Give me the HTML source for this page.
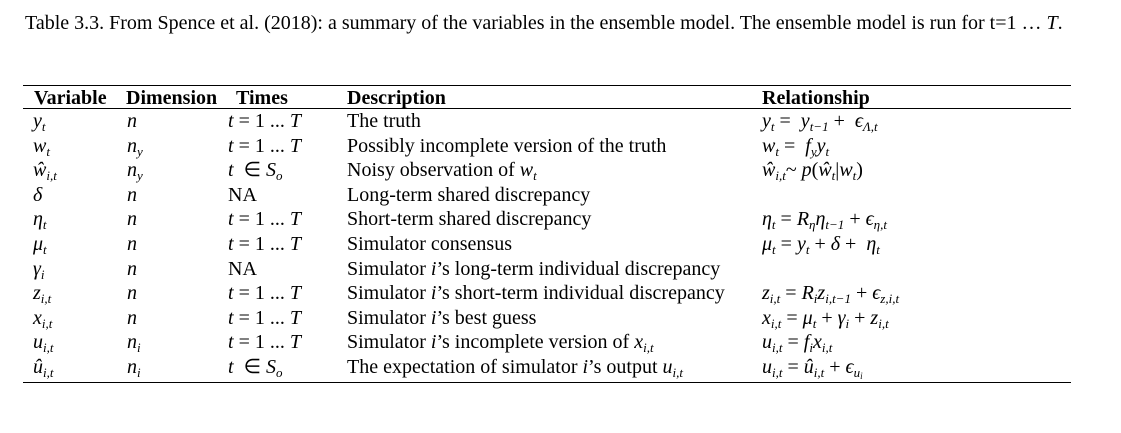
<!DOCTYPE html>
<html><head><meta charset="utf-8"><style>
body{margin:0;width:1121px;height:433px;background:#fff;position:relative;overflow:hidden;font-family:"Liberation Serif",serif;color:#000}
.a{position:absolute;white-space:nowrap;font-size:20px;line-height:22px}
.h{font-weight:bold}
i{font-style:italic}
sub{font-size:13px;vertical-align:-4px;line-height:0;font-style:italic}
.ln{position:absolute;left:23px;width:1048px;height:1.3px;background:#000}
</style></head><body>
<div class="a" style="left:25px;top:12px;font-size:20px">Table 3.3. From Spence et al. (2018): a summary of the variables in the ensemble model. The ensemble model is run for t=1 … <i>T</i>.</div>
<div class="ln" style="top:85px"></div>
<div class="ln" style="top:108px"></div>
<div class="ln" style="top:382px"></div>
<div class="a h" style="left:34px;top:87px">Variable</div>
<div class="a h" style="left:126px;top:87px">Dimension</div>
<div class="a h" style="left:236px;top:87px">Times</div>
<div class="a h" style="left:347px;top:87px">Description</div>
<div class="a h" style="left:762px;top:87px">Relationship</div>
<div id="rows"></div>
<script>
const vars=['<i>y</i><sub>t</sub>','<i>w</i><sub>t</sub>','<i>ŵ</i><sub>i,t</sub>','<i>δ</i>','<i>η</i><sub>t</sub>','<i>μ</i><sub>t</sub>','<i>γ</i><sub>i</sub>','<i>z</i><sub>i,t</sub>','<i>x</i><sub>i,t</sub>','<i>u</i><sub>i,t</sub>','<i>û</i><sub>i,t</sub>'];
const dims=['<i>n</i>','<i>n</i><sub>y</sub>','<i>n</i><sub>y</sub>','<i>n</i>','<i>n</i>','<i>n</i>','<i>n</i>','<i>n</i>','<i>n</i>','<i>n</i><sub>i</sub>','<i>n</i><sub>i</sub>'];
const T='<i>t</i> = 1 ... <i>T</i>', S='<i>t</i> &nbsp;∈ <i>S</i><sub>o</sub>';
const times=[T,T,S,'NA',T,T,'NA',T,T,T,S];
const descs=['The truth','Possibly incomplete version of the truth','Noisy observation of <i>w</i><sub>t</sub>','Long-term shared discrepancy','Short-term shared discrepancy','Simulator consensus','Simulator <i>i</i>’s long-term individual discrepancy','Simulator <i>i</i>’s short-term individual discrepancy','Simulator <i>i</i>’s best guess','Simulator <i>i</i>’s incomplete version of <i>x</i><sub>i,t</sub>','The expectation of simulator <i>i</i>’s output <i>u</i><sub>i,t</sub>'];
const rels=['<i>y</i><sub>t</sub> = &nbsp;<i>y</i><sub>t−1</sub> + &nbsp;<i>ϵ</i><sub>Λ,t</sub>','<i>w</i><sub>t</sub> = &nbsp;<i>f</i><sub>y</sub><i>y</i><sub>t</sub>','<i>ŵ</i><sub>i,t</sub>~ <i>p</i>(<i>ŵ</i><sub>t</sub>|<i>w</i><sub>t</sub>)','','<i>η</i><sub>t</sub> = <i>R</i><sub>η</sub><i>η</i><sub>t−1</sub> + <i>ϵ</i><sub>η,t</sub>','<i>μ</i><sub>t</sub> = <i>y</i><sub>t</sub> + <i>δ</i> + &nbsp;<i>η</i><sub>t</sub>','','<i>z</i><sub>i,t</sub> = <i>R</i><sub>i</sub><i>z</i><sub>i,t−1</sub> + <i>ϵ</i><sub>z,i,t</sub>','<i>x</i><sub>i,t</sub> = <i>μ</i><sub>t</sub> + <i>γ</i><sub>i</sub> + <i>z</i><sub>i,t</sub>','<i>u</i><sub>i,t</sub> = <i>f</i><sub>i</sub><i>x</i><sub>i,t</sub>','<i>u</i><sub>i,t</sub> = <i>û</i><sub>i,t</sub> + <i>ϵ</i><sub>u<sub style="font-size:9px;vertical-align:-2px">i</sub></sub>'];
const cols=[[vars,33,'variable'],[dims,127,'dimension'],[times,228,'times'],[descs,347,'description'],[rels,762,'relationship']];
const root=document.getElementById('rows');
for(let r=0;r<vars.length;r++){
  const top=110+r*24.6;
  for(const [arr,x,nm] of cols){
    const d=document.createElement('div');
    d.className='a';
    
    
    d.style.left=x+'px';d.style.top=top+'px';
    d.innerHTML=arr[r];
    root.appendChild(d);
  }
}
</script>
</body></html>
